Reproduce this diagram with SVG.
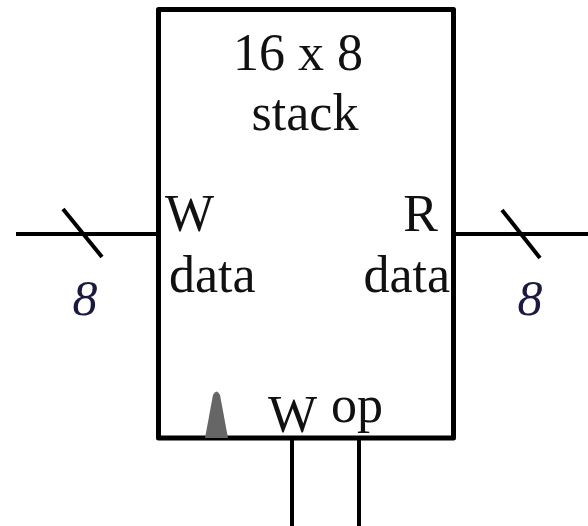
<svg xmlns="http://www.w3.org/2000/svg" width="588" height="526" viewBox="0 0 588 526">
<style>
.t{font-family:"Liberation Serif","Times New Roman",serif;font-size:52px;fill:#111}
.n{font-family:"Liberation Serif","Times New Roman",serif;font-size:50px;font-style:italic;fill:#1a1a40}
.w{stroke:#000;stroke-width:4;fill:none}
</style>
<rect width="588" height="526" fill="#fff"/>
<g id="stack">
<rect x="158.5" y="9.5" width="295" height="428.5" fill="#fff" stroke="#000" stroke-width="5" stroke-linejoin="round"/>
<text class="t" x="298" y="70" text-anchor="middle">16 x 8</text>
<text class="t" x="305" y="130" text-anchor="middle">stack</text>
<text class="t" x="165" y="231">W</text>
<text class="t" x="169" y="292">data</text>
<text class="t" x="438" y="231" text-anchor="end">R</text>
<text class="t" x="450" y="292" text-anchor="end">data</text>
<text class="t" x="268" y="432">W</text>
<text class="t" x="331" y="422">op</text>
<path d="M205,438 L213,395 Q216.5,388 220,395 L228,438 Z" fill="#666"/>
</g>
<g id="connectors">
<line class="w" x1="16" y1="234" x2="158" y2="234"/>
<line class="w" x1="63" y1="209" x2="102" y2="257" stroke-width="3"/>
<line class="w" x1="453" y1="234" x2="588" y2="234"/>
<line class="w" x1="502" y1="210" x2="540" y2="258" stroke-width="3"/>
<line class="w" x1="292" y1="438" x2="292" y2="526" stroke-width="5"/>
<line class="w" x1="359" y1="438" x2="359" y2="526" stroke-width="5"/>
</g>
<text class="n" x="85" y="315" text-anchor="middle">8</text>
<text class="n" x="530" y="315" text-anchor="middle">8</text>
</svg>
